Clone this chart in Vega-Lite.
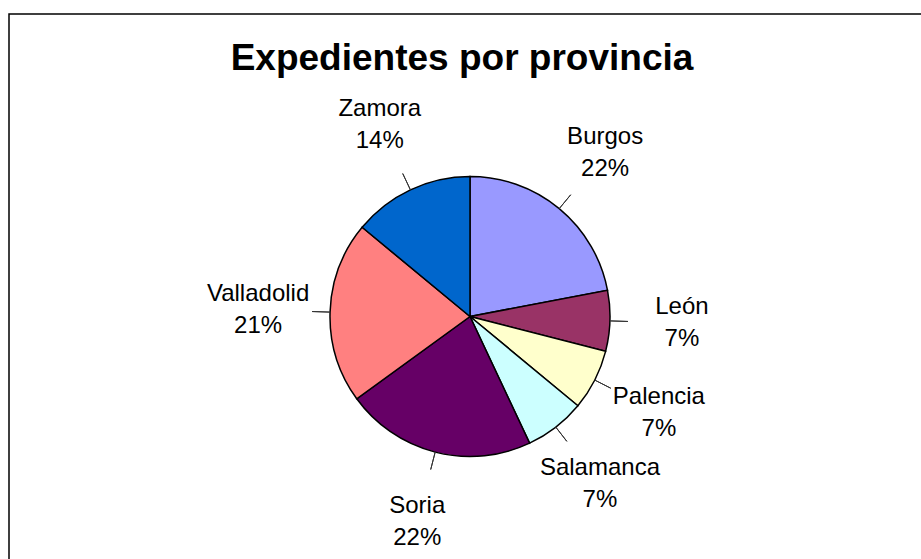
{
  "$schema": "https://vega.github.io/schema/vega-lite/v6.json",
  "autosize": {"type": "fit", "contains": "padding"},
  "width": 921,
  "height": 559,
  "padding": {"left": 9, "top": 14, "right": -10, "bottom": -60},
  "background": "white",
  "view": {"stroke": "black", "strokeWidth": 1.5, "fill": "white"},
  "config": {
    "font": "Liberation Sans"
  },
  "title": {
    "text": "Expedientes por provincia",
    "font": "Liberation Sans",
    "fontSize": 37,
    "fontWeight": "bold",
    "color": "black",
    "anchor": "middle",
    "baseline": "top",
    "offset": -24,
    "dx": -8,
    "dy": 40
  },
  "data": {
    "values": [
      {"provincia": "Burgos", "valor": 22},
      {"provincia": "León", "valor": 7},
      {"provincia": "Palencia", "valor": 7},
      {"provincia": "Salamanca", "valor": 7},
      {"provincia": "Soria", "valor": 22},
      {"provincia": "Valladolid", "valor": 21},
      {"provincia": "Zamora", "valor": 14}
    ]
  },
  "transform": [
    {"stack": "valor", "groupby": [], "sort": [{"field": "provincia", "order": "ascending"}], "as": ["s0", "s1"]},
    {"calculate": "(datum.s0 + datum.s1) / 2", "as": "mid"},
    {"calculate": "[datum.provincia, datum.valor + '%']", "as": "etiqueta"}
  ],
  "layer": [
    {
      "mark": {"type": "arc", "stroke": "black", "strokeWidth": 1.5, "radius": 140},
      "encoding": {
        "theta": {"field": "s0", "type": "quantitative", "scale": {"domain": [0, 100]}},
        "theta2": {"field": "s1"},
        "color": {
          "field": "provincia",
          "type": "nominal",
          "scale": {
            "domain": ["Burgos", "León", "Palencia", "Salamanca", "Soria", "Valladolid", "Zamora"],
            "range": ["#9999FF", "#993366", "#FFFFCC", "#CCFFFF", "#660066", "#FF8080", "#0066CC"]
          },
          "legend": null
        }
      }
    },
    {
      "mark": {"type": "arc", "stroke": "#333333", "strokeWidth": 1, "fill": null, "radius": 158, "radius2": 140},
      "encoding": {
        "theta": {"field": "mid", "type": "quantitative", "stack": null, "scale": {"domain": [0, 100]}},
        "theta2": {"field": "mid"}
      }
    },
    {
      "mark": {"type": "text", "radius": 212, "dy": -16, "fontSize": 24, "font": "Liberation Sans", "color": "black", "lineHeight": 32, "baseline": "middle", "align": "center"},
      "encoding": {
        "theta": {"field": "mid", "type": "quantitative", "stack": null, "scale": {"domain": [0, 100]}},
        "text": {"field": "etiqueta"}
      }
    }
  ]
}
